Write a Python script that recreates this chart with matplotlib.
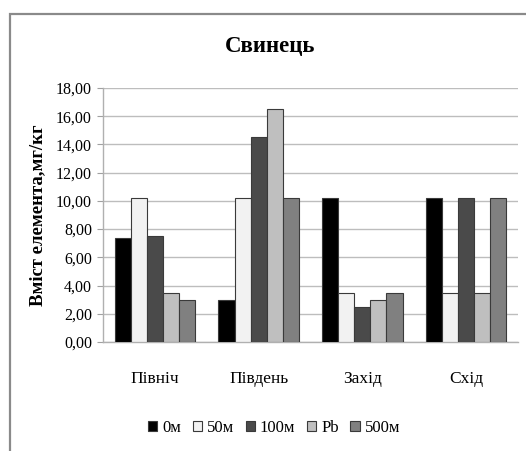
import matplotlib
matplotlib.use("Agg")
import matplotlib.pyplot as plt
from matplotlib.patches import Rectangle
from matplotlib.ticker import FuncFormatter
import numpy as np

plt.rcParams['font.family'] = ['Liberation Serif', 'DejaVu Serif']

categories = ["Північ", "Південь", "Захід", "Схід"]
series_names = ["0м", "50м", "100м", "Pb", "500м"]
values_0m = [7.4, 3.0, 10.2, 10.2]
values_50m = [10.2, 10.2, 3.5, 3.5]
values_100m = [7.5, 14.5, 2.5, 10.2]
values_pb = [3.5, 16.5, 3.0, 3.5]
values_500m = [3.0, 10.2, 3.5, 10.2]
y_ticks = [0, 2, 4, 6, 8, 10, 12, 14, 16, 18]

series_values = [values_0m, values_50m, values_100m, values_pb, values_500m]
colors = ["#000000", "#f2f2f2", "#4a4a4a", "#bfbfbf", "#808080"]

W, H = 526, 451
fig = plt.figure(figsize=(W / 100, H / 100), dpi=100)
fig.patch.set_facecolor("white")

# outer chart frame
fig.patches.append(Rectangle((10 / W, -0.2), 1.2, 1.2 - 14 / H,
                             transform=fig.transFigure, fill=False,
                             edgecolor="#8a8a8a", linewidth=1.6))

ax = fig.add_axes([103 / W, 1 - 342 / H, (518 - 103) / W, (342 - 88) / H])
ax.set_facecolor("none")

x = np.arange(len(categories))
bar_w = 0.155
for i, (name, vals, col) in enumerate(zip(series_names, series_values, colors)):
    offs = (i - 2) * bar_w
    ax.bar(x + offs, vals, width=bar_w, color=col, edgecolor="#3a3a3a",
           linewidth=0.8, label=name, zorder=3)

ax.set_xlim(-0.5, len(categories) - 0.5)
ax.set_ylim(0, 18)
ax.set_yticks(y_ticks)
ax.yaxis.set_major_formatter(FuncFormatter(lambda v, p: f"{v:.2f}".replace(".", ",")))
ax.set_xticks(x)
ax.set_xticklabels(categories, fontsize=12.5)
ax.tick_params(axis="x", length=0, pad=21)
ax.tick_params(axis="y", length=4, color="#a0a0a0", labelsize=11.5, pad=4)

ax.grid(axis="y", color="#bdbdbd", linewidth=1.0, zorder=0)
for side in ["top", "right"]:
    ax.spines[side].set_visible(False)
for side in ["left", "bottom"]:
    ax.spines[side].set_color("#b0b0b0")
    ax.spines[side].set_linewidth(1.0)

ax.set_ylabel("Вміст елемента,мг/кг", fontsize=13.5, fontweight="bold", labelpad=7)

fig.text(270 / W, 1 - 47 / H, "Свинець", ha="center", va="center",
         fontsize=16.5, fontweight="bold")

leg = fig.legend(loc="center", bbox_to_anchor=(274 / W, 1 - 428 / H), ncol=5,
                 frameon=False, fontsize=12, handlelength=0.55, handleheight=0.55,
                 handletextpad=0.3, columnspacing=0.7)

fig.savefig("out.png", dpi=100)
